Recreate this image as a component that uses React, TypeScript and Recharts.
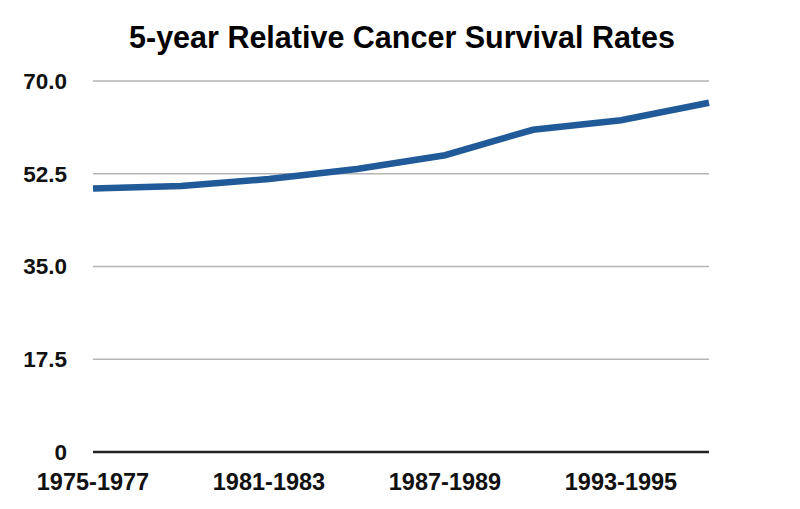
import React from 'react';
import { LineChart, Line, XAxis, YAxis, CartesianGrid } from 'recharts';

const periods = ['1975-1977', '1978-1980', '1981-1983', '1984-1986', '1987-1989', '1990-1992', '1993-1995', '1996-2002'];
const survivalRates = [49.7, 50.2, 51.5, 53.4, 56.0, 60.8, 62.6, 65.9];
const yTicks = [0, 17.5, 35, 52.5, 70];

const data = periods.map((p, i) => ({ period: p, rate: survivalRates[i] }));

const font = '"Liberation Sans", Arial, Helvetica, sans-serif';

export default function App() {
  return (
    <div style={{ position: 'absolute', left: 0, top: 0, width: 800, height: 509, background: '#fff', fontFamily: font }}>
      <div
        style={{
          position: 'absolute',
          left: 0,
          top: 19,
          width: 804,
          textAlign: 'center',
          fontSize: 30.5,
          fontWeight: 'bold',
          color: '#000',
          lineHeight: '36px',
        }}
      >
        5-year Relative Cancer Survival Rates
      </div>
      <LineChart width={800} height={509} data={data} margin={{ top: 81, right: 91, bottom: 17, left: 0 }}>
        <CartesianGrid vertical={false} stroke="#b5b5b5" strokeWidth={1.5} />
        <XAxis
          dataKey="period"
          interval={1}
          tickLine={false}
          axisLine={{ stroke: '#222', strokeWidth: 2.5 }}
          tickSize={0}
          tickMargin={21}
          height={40}
          tick={{ fill: '#111', fontSize: 23.5, fontWeight: 'bold', fontFamily: font }}
        />
        <YAxis
          domain={[0, 70]}
          ticks={yTicks}
          interval={0}
          width={93}
          tickLine={false}
          axisLine={false}
          tickSize={0}
          tickMargin={26}
          tickFormatter={(v: number) => (v === 0 ? '0' : v.toFixed(1))}
          tick={{ fill: '#111', fontSize: 22.5, fontWeight: 'bold', fontFamily: font }}
        />
        <Line
          type="linear"
          dataKey="rate"
          stroke="#215a98"
          strokeWidth={6.5}
          dot={false}
          activeDot={false}
          isAnimationActive={false}
        />
      </LineChart>
    </div>
  );
}
